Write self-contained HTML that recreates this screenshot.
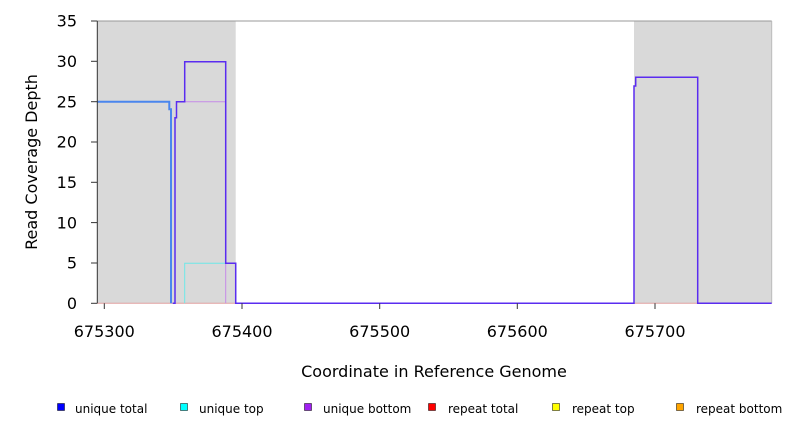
<!DOCTYPE html>
<html><head><meta charset="utf-8"><style>body{margin:0;background:#fff}svg{display:block;font-family:"DejaVu Sans","Liberation Sans",sans-serif}</style></head><body>
<svg width="792" height="432" viewBox="0 0 792 432">
<rect x="97.3" y="21" width="138.4" height="282.3" fill="#d9d9d9"/>
<rect x="634" y="21" width="137.7" height="282.3" fill="#d9d9d9"/>
<line x1="97.3" y1="21" x2="771.7" y2="21" stroke="#999" stroke-width="1"/>
<line x1="771.7" y1="21" x2="771.7" y2="303.3" stroke="#bbb" stroke-width="1"/>
<line x1="97.3" y1="303.3" x2="771.7" y2="303.3" stroke="#e0a0a0" stroke-width="1"/>
<polyline fill="none" stroke="#6ee8e8" stroke-width="1" points="184.7,303.3 184.7,263.3 236,263.3 236,303.3"/>
<polyline fill="none" stroke="#c58be8" stroke-width="1" points="176.5,101.7 225.7,101.7 225.7,303.3"/>
<polyline fill="none" stroke="#4a86ee" stroke-width="2" points="97.3,101.7 169.3,101.7 169.3,109.3 171,109.3 171,303.3"/>
<polyline fill="none" stroke="#5a2cf0" stroke-width="1.5" points="172.7,303.3 175,303.3 175,117.7 176.5,117.7 176.5,101.7 184.7,101.7 184.7,61.7 225.7,61.7 225.7,263.3 235.7,263.3 235.7,303.3 634,303.3 634,86 635.7,86 635.7,77.3 697.7,77.3 697.7,303.3 771.7,303.3"/>
<line x1="97.3" y1="21" x2="97.3" y2="303.3" stroke="#333" stroke-width="1"/>
<g stroke="#333" stroke-width="1">
<line x1="91" y1="303.3" x2="97.3" y2="303.3"/><line x1="91" y1="263" x2="97.3" y2="263"/><line x1="91" y1="222.6" x2="97.3" y2="222.6"/><line x1="91" y1="182.3" x2="97.3" y2="182.3"/><line x1="91" y1="142" x2="97.3" y2="142"/><line x1="91" y1="101.7" x2="97.3" y2="101.7"/><line x1="91" y1="61.3" x2="97.3" y2="61.3"/><line x1="91" y1="21" x2="97.3" y2="21"/>
<line x1="104.3" y1="303.3" x2="104.3" y2="309"/><line x1="242" y1="303.3" x2="242" y2="309"/><line x1="379.7" y1="303.3" x2="379.7" y2="309"/><line x1="517.3" y1="303.3" x2="517.3" y2="309"/><line x1="655" y1="303.3" x2="655" y2="309"/>
</g>
<g font-size="16" fill="#000" text-anchor="end">
<text x="77" y="309">0</text><text x="77" y="268.5">5</text><text x="77" y="228.5">10</text><text x="77" y="188">15</text><text x="77" y="147.5">20</text><text x="77" y="107.5">25</text><text x="77" y="67">30</text><text x="77" y="26.5">35</text>
</g>
<g font-size="16" fill="#000" text-anchor="middle">
<text x="104.3" y="337">675300</text><text x="242" y="337">675400</text><text x="379.7" y="337">675500</text><text x="517.3" y="337">675600</text><text x="655" y="337">675700</text>
<text x="434" y="377">Coordinate in Reference Genome</text>
<text transform="translate(37,162) rotate(-90)">Read Coverage Depth</text>
</g>
<g font-size="12" fill="#000">
<rect x="57.5" y="403.5" width="7" height="7" fill="#0000ff" stroke="#000" stroke-width="0.5"/><text x="75" y="413">unique total</text>
<rect x="180.5" y="403.5" width="7" height="7" fill="#00ffff" stroke="#000" stroke-width="0.5"/><text x="199" y="413">unique top</text>
<rect x="304.5" y="403.5" width="7" height="7" fill="#a020f0" stroke="#000" stroke-width="0.5"/><text x="323" y="413">unique bottom</text>
<rect x="428.5" y="403.5" width="7" height="7" fill="#ff0000" stroke="#000" stroke-width="0.5"/><text x="448" y="413">repeat total</text>
<rect x="552.5" y="403.5" width="7" height="7" fill="#ffff00" stroke="#000" stroke-width="0.5"/><text x="572" y="413">repeat top</text>
<rect x="676.5" y="403.5" width="7" height="7" fill="#ffa500" stroke="#000" stroke-width="0.5"/><text x="696" y="413">repeat bottom</text>
</g>
</svg>
</body></html>
